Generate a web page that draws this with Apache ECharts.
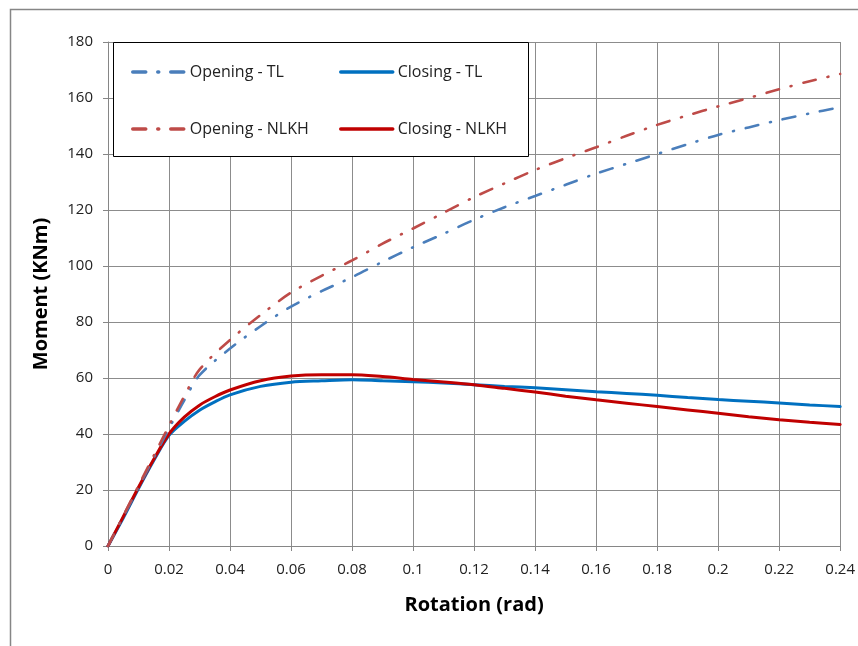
<!DOCTYPE html>
<html>
<head>
<meta charset="utf-8">
<script src="https://cdn.jsdelivr.net/npm/echarts@6/dist/echarts.min.js"></script>
<style>
  html, body { margin: 0; padding: 0; background: #fff; }
  #chart { width: 858px; height: 646px; }
</style>
</head>
<body>
<div id="chart"></div>
<script>
// rotation (rad) values
var openingRot = [0, 0.01, 0.02, 0.025, 0.03, 0.04, 0.05, 0.06, 0.07, 0.08, 0.09, 0.1, 0.11, 0.12, 0.13, 0.14, 0.15, 0.16, 0.17, 0.18, 0.19, 0.2, 0.21, 0.22, 0.23, 0.24];
var openingTL = [0, 21, 42, 52, 61, 70.5, 78.5, 85.5, 91, 96, 101.5, 106.7, 111.5, 116.5, 121, 125, 129, 133, 136.5, 140, 143.5, 146.8, 149.5, 152.1, 154.5, 156.7];
var openingNLKH = [0, 21.5, 43, 53.5, 63, 73.6, 82.5, 90.5, 96.5, 102, 108, 113.4, 119, 124.6, 129.5, 134.3, 138.5, 142.4, 146.5, 150.4, 153.8, 157, 160, 163.1, 166, 168.6];

var closingRot = [0, 0.005, 0.01, 0.015, 0.02, 0.025, 0.03, 0.035, 0.04, 0.05, 0.06, 0.07, 0.08, 0.09, 0.1, 0.11, 0.12, 0.13, 0.14, 0.15, 0.16, 0.17, 0.18, 0.19, 0.2, 0.21, 0.22, 0.23, 0.24];
var closingTL = [0, 10, 20.5, 30.5, 39.5, 44.5, 48.5, 51.5, 54, 57, 58.5, 59, 59.4, 59, 58.7, 58.2, 57.6, 57, 56.5, 55.8, 55.1, 54.5, 53.8, 53, 52.3, 51.7, 51.1, 50.4, 49.8];
var closingNLKH = [0, 10.5, 21, 31, 40, 46, 50.3, 53.3, 55.7, 59, 60.7, 61.2, 61.2, 60.5, 59.5, 58.6, 57.6, 56.3, 55, 53.5, 52.2, 51, 49.8, 48.6, 47.4, 46.2, 45.1, 44.2, 43.4];

var seriesNames = ['Opening - TL', 'Closing - TL', 'Opening - NLKH', 'Closing - NLKH'];
var seriesColors = ['#4A7EBB', '#0070C0', '#BE4B48', '#C00000'];

var FONT = 'Open Sans';
var dashDot = [13, 12, 1, 12];

function pairs(xs, ys) {
  return xs.map(function (x, i) { return [x, ys[i]]; });
}

function lineSeries(name, color, xs, ys, dashed) {
  return {
    name: name,
    type: 'line',
    data: pairs(xs, ys),
    symbol: 'none',
    smooth: 0.3,
    lineStyle: {
      color: color,
      width: dashed ? 2.6 : 3,
      type: dashed ? dashDot : 'solid',
      cap: 'round'
    },
    itemStyle: { color: color },
    z: dashed ? 3 : 2
  };
}

function legendBlock(names, left) {
  return {
    data: names,
    orient: 'vertical',
    left: left, top: 59,
    itemWidth: 52, itemHeight: 14, itemGap: 41, itemTextGap: 4,
    itemStyle: { opacity: 0 },
    lineStyle: { width: 3.5, type: [13, 12, 1, 12], cap: 'round' },
    textStyle: { fontFamily: FONT, fontSize: 16, color: '#222' },
    z: 11
  };
}

var chart = echarts.init(document.getElementById('chart'));

var legendOpening = legendBlock([seriesNames[0], seriesNames[2]], 126);
var legendClosing = legendBlock([seriesNames[1], seriesNames[3]], 334);
legendClosing.lineStyle = { width: 3.5, type: 'solid' };

var option = {
  animation: false,
  backgroundColor: '#fff',
  textStyle: { fontFamily: FONT },
  grid: { left: 108, right: 17, top: 42, bottom: 100 },
  graphic: [{
    type: 'rect',
    left: 8, top: 7,
    shape: { width: 880, height: 680 },
    style: { fill: 'none', stroke: '#868686', lineWidth: 1.5 },
    z: 0
  }, {
    type: 'rect',
    left: 113, top: 42,
    shape: { width: 415, height: 114 },
    style: { fill: '#fff', stroke: '#000', lineWidth: 1 },
    z: 10
  }],
  legend: [legendOpening, legendClosing],
  xAxis: {
    type: 'value',
    min: 0, max: 0.24, interval: 0.02,
    name: 'Rotation (rad)',
    nameLocation: 'middle',
    nameGap: 49,
    nameTextStyle: { fontFamily: FONT, fontSize: 20, fontWeight: 'bold', color: '#000' },
    axisLine: { show: true, lineStyle: { color: '#868686', width: 1 } },
    axisTick: { show: true, inside: false, length: 5, lineStyle: { color: '#868686' } },
    axisLabel: {
      margin: 16,
      fontSize: 15, color: '#222',
      formatter: function (v) { return String(parseFloat(v.toFixed(2))); }
    },
    splitLine: { show: true, lineStyle: { color: '#8c8c8c', width: 1 } }
  },
  yAxis: {
    type: 'value',
    min: 0, max: 180, interval: 20,
    name: 'Moment (KNm)',
    nameLocation: 'middle',
    nameGap: 57,
    nameTextStyle: { fontFamily: FONT, fontSize: 20, fontWeight: 'bold', color: '#000' },
    axisLine: { show: true, lineStyle: { color: '#868686', width: 1 } },
    axisTick: { show: true, inside: false, length: 5, lineStyle: { color: '#868686' } },
    axisLabel: { margin: 15, fontSize: 15, color: '#222' },
    splitLine: { show: true, lineStyle: { color: '#8c8c8c', width: 1 } }
  },
  series: [
    lineSeries(seriesNames[0], seriesColors[0], openingRot, openingTL, true),
    lineSeries(seriesNames[1], seriesColors[1], closingRot, closingTL, false),
    lineSeries(seriesNames[2], seriesColors[2], openingRot, openingNLKH, true),
    lineSeries(seriesNames[3], seriesColors[3], closingRot, closingNLKH, false)
  ]
};

chart.setOption(option);
</script>
</body>
</html>
